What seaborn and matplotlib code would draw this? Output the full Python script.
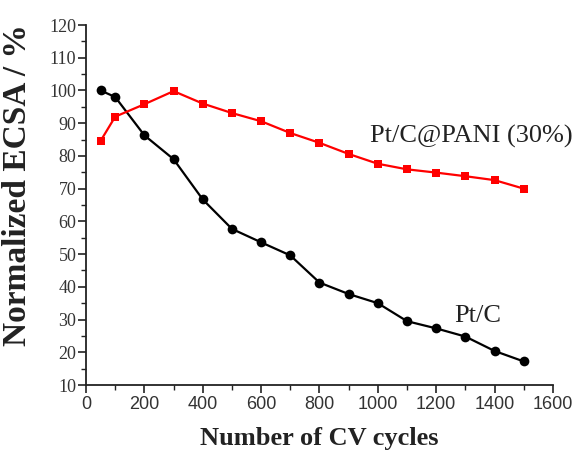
import matplotlib
matplotlib.use("Agg")
import matplotlib.pyplot as plt
from matplotlib.ticker import MultipleLocator
import pandas as pd
import seaborn as sns

# CV cycle numbers and normalized ECSA (%) for the two catalysts
cycles = [50, 100, 200, 300, 400, 500, 600, 700, 800, 900, 1000, 1100, 1200, 1300, 1400, 1500]
ecsa_ptc = [100, 98, 86.3, 79, 66.7, 57.7, 53.6, 49.6, 41.3, 37.8, 35.0, 29.5, 27.3, 24.8, 20.4, 17.2]
ecsa_pani = [84.6, 92, 95.8, 99.8, 96, 93.1, 90.6, 87.0, 84.0, 80.6, 77.6, 75.9, 74.9, 73.8, 72.6, 70.0]
series_names = ["Pt/C", "Pt/C@PANI (30%)"]

df = pd.concat([
    pd.DataFrame({"cycles": cycles, "ecsa": ecsa_ptc, "sample": series_names[0]}),
    pd.DataFrame({"cycles": cycles, "ecsa": ecsa_pani, "sample": series_names[1]}),
])

sns.set_style("ticks")
fig = plt.figure(figsize=(5.75, 4.5), dpi=100)
ax = fig.add_axes([0.1496, 0.1444, 0.8121, 0.80])

sns.lineplot(
    data=df, x="cycles", y="ecsa", hue="sample", style="sample",
    palette={series_names[0]: "black", series_names[1]: "#ff0000"},
    markers={series_names[0]: "o", series_names[1]: "s"},
    dashes=False, linewidth=1.6, markeredgewidth=0,
    legend=False, ax=ax,
)
# marker sizes differ between the two series
for line, ms in zip(ax.lines, [7, 5.5]):
    line.set_markersize(ms)

ax.set_xlim(0, 1600)
ax.set_ylim(10, 120)
ax.xaxis.set_major_locator(MultipleLocator(200))
ax.xaxis.set_minor_locator(MultipleLocator(100))
ax.yaxis.set_major_locator(MultipleLocator(10))
ax.yaxis.set_minor_locator(MultipleLocator(5))

for side in ["top", "right"]:
    ax.spines[side].set_visible(False)
for side in ["left", "bottom"]:
    ax.spines[side].set_linewidth(1.3)
    ax.spines[side].set_color("#222222")

ax.tick_params(axis="both", which="major", direction="out", length=6, width=1.2, color="#222222")
ax.tick_params(axis="both", which="minor", direction="out", length=3.5, width=1.0, color="#222222")
ax.tick_params(axis="x", labelsize=13, pad=2)
ax.tick_params(axis="y", labelsize=13, pad=1)
for lab in ax.get_xticklabels():
    lab.set_fontfamily("Liberation Sans")
    lab.set_color("#333333")
for lab in ax.get_yticklabels():
    lab.set_fontfamily("Liberation Serif")
    lab.set_color("#333333")

ax.set_xlabel("Number of CV cycles", fontfamily="Liberation Serif", fontweight="bold",
              fontsize=19, color="#222222", labelpad=10)
ax.set_ylabel("Normalized ECSA / %", fontfamily="Liberation Serif", fontweight="bold",
              fontsize=24, color="#222222")
ax.yaxis.set_label_coords(-0.113, 0.556)

ax.text(973, 85.8, "Pt/C@PANI (30%)", fontfamily="Liberation Serif", fontsize=19,
        color="#222222", va="center", ha="left", clip_on=False)
ax.text(1263, 31, "Pt/C", fontfamily="Liberation Serif", fontsize=19,
        color="#222222", va="center", ha="left")

fig.savefig("out.png", dpi=100)
